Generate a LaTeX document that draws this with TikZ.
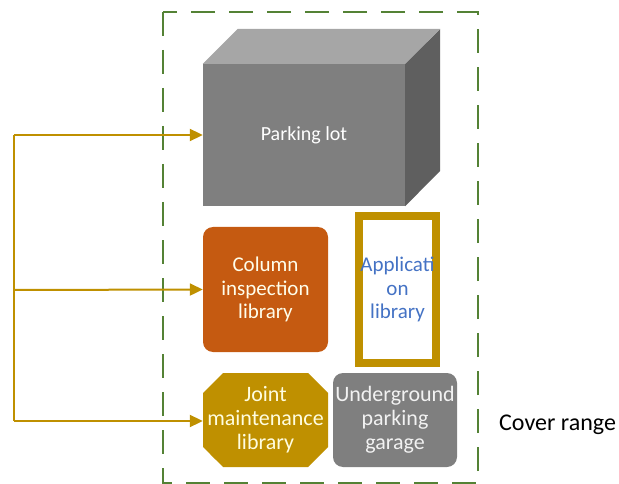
\documentclass[tikz,border=0pt]{standalone}
\usepackage{fontspec}
\setmainfont{Carlito}
\usetikzlibrary{positioning,calc,arrows.meta,shapes.misc}
\definecolor{gold}{HTML}{BF9000}
\definecolor{rust}{HTML}{C55A11}
\definecolor{midgray}{HTML}{7F7F7F}
\definecolor{topgray}{HTML}{A6A6A6}
\definecolor{sidegray}{HTML}{5F5F5F}
\definecolor{rangegreen}{HTML}{548235}
\definecolor{appblue}{HTML}{4472C4}
\tikzset{font=\fontsize{20}{23.5}\selectfont}

\begin{document}
\begin{tikzpicture}[x=1pt, y=-1pt]
	\useasboundingbox (0, 0) rectangle (619, 484);
	\begin{scope}
		\tikzstyle{every node}=[align=center, inner sep=1pt]
		% cover range
		\draw [rangegreen, line width=1.5pt, dash pattern=on 24pt off 14pt] (163, 12) rectangle (478, 483);
		\node [anchor=west, font=\fontsize{24}{28}\selectfont] (cover) at (498, 425) {Cover range};

		% parking lot block
		\node [fill=midgray, text=white, minimum width=202pt, minimum height=142pt, font=\fontsize{20}{24}\selectfont] (lot) at (304, 135) {Parking lot};
		\fill [topgray] (lot.north west) -- ++(35, -35) -- ++(202, 0) -- (lot.north east) -- cycle;
		\fill [sidegray] (lot.north east) -- ++(35, -35) -- ++(0, 142) -- (lot.south east) -- cycle;

		\node [fill=rust, text=white!92!yellow, rounded corners=10pt, minimum width=125pt, minimum height=125pt, font=\fontsize{21}{23.5}\selectfont] (col) at (265.5, 289.5) {Column\\inspection\\library};
		\node [draw=gold, line width=8pt, text=appblue, minimum width=73pt, minimum height=147pt, font=\fontsize{21}{23.5}\selectfont] (app) at (397.5, 289.5) {Applicati\\on\\library};

		\node [chamfered rectangle, chamfered rectangle xsep=10pt, chamfered rectangle ysep=10pt, inner xsep=-6pt, fill=gold, text=white!88!yellow, minimum width=125pt, minimum height=94pt, font=\fontsize{22}{24}\selectfont] (joint) at (265.5, 420) {Joint\\maintenance\\library};
		\node [fill=midgray, text=white!95!black, rounded corners=10pt, minimum width=124pt, minimum height=94pt, font=\fontsize{22}{24}\selectfont] (garage) at (395, 420) {Underground\\parking\\garage};

		% feed lines
		\coordinate (bustop) at (14, 135);
		\coordinate (busmid) at (14, 290);
		\coordinate (busbot) at (14, 421);
		\draw [gold, line width=2pt] (bustop) -- (busbot);
		\draw [gold, line width=2pt, -{Triangle[length=13pt, width=12pt]}] (bustop) -- (lot.west);
		\draw [gold, line width=2pt, -{Triangle[length=13pt, width=12pt]}] (busmid) -- (col.west);
		\draw [gold, line width=2pt, -{Triangle[length=13pt, width=12pt]}] (busbot) -- (joint.west |- busbot);
	\end{scope}
\end{tikzpicture}
\end{document}
